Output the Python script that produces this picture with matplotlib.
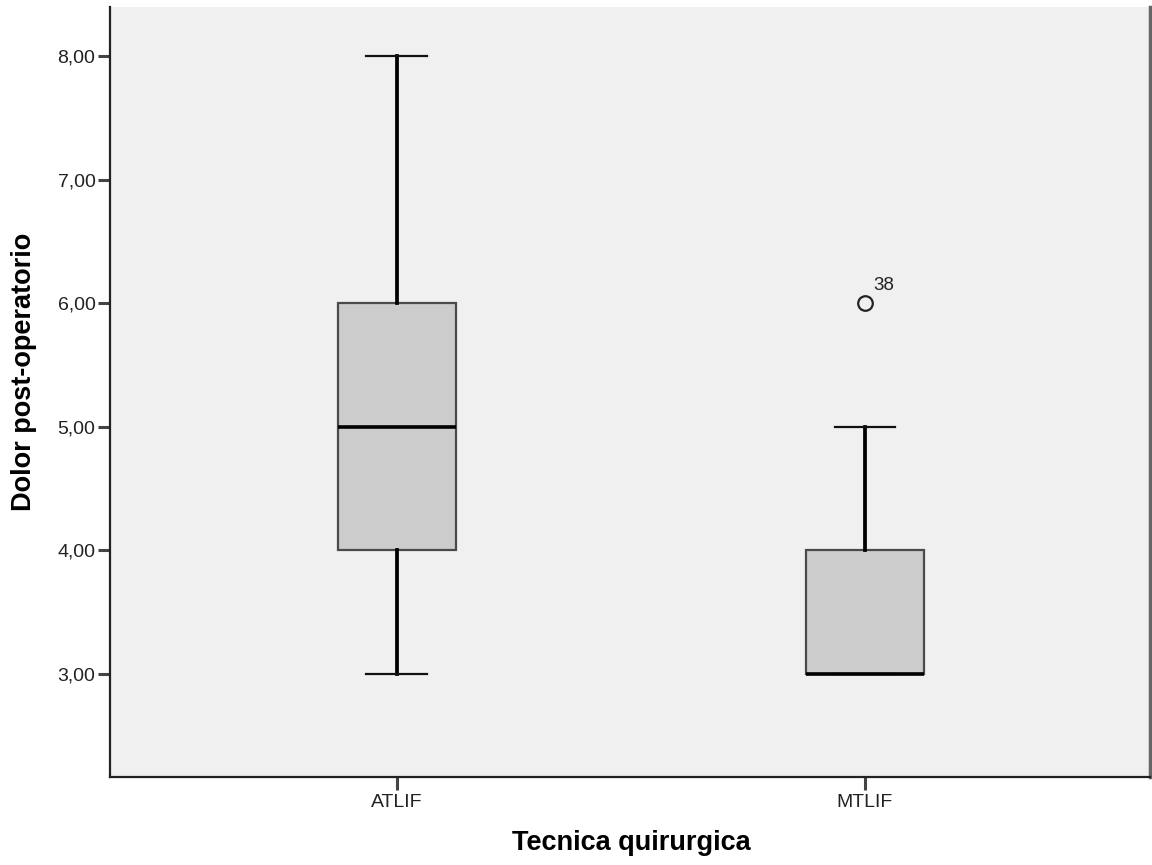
import matplotlib
matplotlib.use("Agg")
import matplotlib.pyplot as plt

categories = ["ATLIF", "MTLIF"]
whislo = [3.0, 3.0]
q1 = [4.0, 3.0]
med = [5.0, 3.0]
q3 = [6.0, 4.0]
whishi = [8.0, 5.0]
outliers = [[], [6.0]]
outlier_labels = [[], ["38"]]
yticks = [3, 4, 5, 6, 7, 8]

plt.rcParams['font.family'] = ['Liberation Sans', 'DejaVu Sans']

fig = plt.figure(figsize=(11.52, 8.65), dpi=100)
ax = fig.add_axes([110/1152, 1 - 777/865, 1040/1152, 770/865])
ax.set_facecolor('#F0F0F0')

stats = []
for i, c in enumerate(categories):
    stats.append(dict(label=c, whislo=whislo[i], q1=q1[i], med=med[i],
                      q3=q3[i], whishi=whishi[i], fliers=outliers[i]))

ax.bxp(stats, positions=[1, 2], widths=0.252, patch_artist=True,
       boxprops=dict(facecolor='#CCCCCC', edgecolor='#4a4a4a', linewidth=1.6),
       medianprops=dict(color='black', linewidth=2.6),
       whiskerprops=dict(color='black', linewidth=2.7),
       capprops=dict(color='#111111', linewidth=1.6),
       capwidths=0.13,
       flierprops=dict(marker='o', markerfacecolor='none', markeredgecolor='#222222',
                       markersize=10.5, markeredgewidth=1.6))

for i, (vals, labs) in enumerate(zip(outliers, outlier_labels)):
    for v, l in zip(vals, labs):
        ax.annotate(l, (i + 1, v), xytext=(6, 7), textcoords='offset points',
                    fontsize=13.5, color='#222222', va='bottom', ha='left')

ax.set_xlim(0.387, 2.609)
ax.set_ylim(2.166, 8.40)
ax.set_yticks(yticks)
ax.set_yticklabels([f"{t:.2f}".replace('.', ',') for t in yticks])
ax.set_xticks([1, 2])
ax.set_xticklabels(categories)
ax.tick_params(axis='both', direction='out', length=9, width=2.2, colors='#444444',
               labelsize=14, labelcolor='#222222', pad=1.5)
ax.tick_params(axis='x', pad=3)
ax.spines['top'].set_visible(False)
for s in ['left', 'bottom']:
    ax.spines[s].set_linewidth(1.6)
    ax.spines[s].set_color('#222222')
ax.spines['right'].set_linewidth(2.5)
ax.spines['right'].set_color('#666666')

ax.set_xlabel("Tecnica quirurgica", fontsize=19.5, fontweight='bold')
ax.set_ylabel("Dolor post-operatorio", fontsize=19.5, fontweight='bold')
ax.xaxis.set_label_coords(0.501, (777 - 830) / 770)
ax.yaxis.set_label_coords((24 - 110) / 1040, (777 - 371.5) / 770)
ax.yaxis.label.set_va('center')

fig.savefig("out.png", dpi=100)
